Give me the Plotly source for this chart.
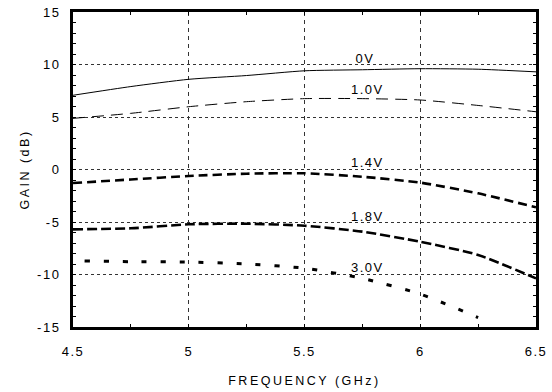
import plotly.graph_objects as go

freq = [4.5, 4.75, 5.0, 5.25, 5.5, 5.75, 6.0, 6.25, 6.5]
gain_0v = [7.07, 7.9, 8.59, 8.95, 9.4, 9.5, 9.6, 9.55, 9.3]
gain_1v0 = [4.87, 5.35, 5.98, 6.46, 6.75, 6.75, 6.62, 6.1, 5.5]
gain_1v4 = [-1.29, -0.95, -0.62, -0.4, -0.36, -0.69, -1.25, -2.27, -3.6]
gain_1v8 = [-5.7, -5.6, -5.22, -5.16, -5.35, -5.92, -6.88, -8.14, -10.37]
freq_3v0 = [4.55, 4.75, 5.0, 5.25, 5.5, 5.75, 6.0, 6.25]
gain_3v0 = [-8.71, -8.78, -8.81, -9.0, -9.4, -10.37, -11.86, -14.1]

labels = ["0V", "1.0V", "1.4V", "1.8V", "3.0V"]
label_x = [5.76, 5.77, 5.77, 5.77, 5.77]
label_y = [10.6, 7.6, 0.65, -4.5, -9.35]

x_ticks = [4.5, 5, 5.5, 6, 6.5]
x_ticktext = ["4.5", "5", "5.5", "6", "6.5"]
y_ticks = [-15, -10, -5, 0, 5, 10, 15]
y_ticktext = ["-15", "-10", "-5", "0", "5", "10", "15"]
x_range = [4.5, 6.5]
y_range = [-15, 15]

FONT = "Liberation Sans, Arial, sans-serif"

fig = go.Figure()
series = [
    (freq, gain_0v, 1.0, "solid"),
    (freq, gain_1v0, 1.0, "12px,7px"),
    (freq, gain_1v4, 2.6, "9px,5px"),
    (freq, gain_1v8, 2.6, "10px,4px"),
    (freq_3v0, gain_3v0, 3.0, "5px,14px"),
]
for (xs, ys, w, d), name in zip(series, labels):
    fig.add_trace(go.Scatter(x=xs, y=ys, mode="lines", name=name,
                             line=dict(color="black", width=w, dash=d, shape="spline", smoothing=0.6),
                             showlegend=False, hoverinfo="skip"))

for t, lx, ly in zip(labels, label_x, label_y):
    fig.add_annotation(x=lx, y=ly, text=t, showarrow=False,
                       font=dict(family=FONT, size=13, color="black"))

fig.update_layout(
    xaxis=dict(range=x_range, tickvals=x_ticks, ticktext=x_ticktext,
               showgrid=True, gridcolor="#333333", gridwidth=1, griddash="4px,4px",
               showline=True, linecolor="black", linewidth=3, mirror=True,
               ticks="", zeroline=False, ticklabelstandoff=10, automargin=False,
               tickfont=dict(family=FONT, size=13, color="black"),
               title=dict(text="FREQUENCY (GHz)", font=dict(family=FONT, size=12.5, color="black"), standoff=19)),
    yaxis=dict(range=y_range, tickvals=y_ticks, ticktext=y_ticktext,
               showgrid=True, gridcolor="#333333", gridwidth=1, griddash="3px,3px",
               showline=True, linecolor="black", linewidth=3, mirror=True,
               ticks="", zeroline=False, ticklabelstandoff=7, automargin=False,
               tickfont=dict(family=FONT, size=13, color="black"),
               title=dict(text="GAIN (dB)", font=dict(family=FONT, size=12.5, color="black"), standoff=10)),
    xaxis2=dict(overlaying="x", matches="x", range=x_range, dtick=0.25, tick0=4.5,
                ticks="inside", ticklen=3, tickcolor="black", showticklabels=False,
                showgrid=False, zeroline=False, showline=True, linecolor="black",
                linewidth=3, mirror="allticks", automargin=False),
    yaxis2=dict(overlaying="y", matches="y", range=y_range, dtick=1, tick0=0,
                ticks="inside", ticklen=3, tickcolor="black", showticklabels=False,
                showgrid=False, zeroline=False, showline=True, linecolor="black",
                linewidth=3, mirror="allticks", automargin=False),
)
# invisible trace to activate the tick-only overlay axes
fig.add_trace(go.Scatter(x=[x_range[0]], y=[y_range[0]], xaxis="x2", yaxis="y2",
                         mode="markers", marker=dict(opacity=0), showlegend=False, hoverinfo="skip"))

fig.update_layout(width=552, height=392, margin=dict(l=73, r=16, t=12, b=65),
                  plot_bgcolor="white", paper_bgcolor="white",
                  font=dict(family=FONT, color="black"))

post = """
document.body.style.margin = '0';
var s = document.createElement('style');
s.textContent = '.xtitle, .ytitle {letter-spacing: 2.5px;} .xtick text, .ytick text {letter-spacing: 1.5px;} .annotation-text {letter-spacing: 1.5px;}';
document.head.appendChild(s);
"""
fig.write_html("out.html", post_script=post, config={"displayModeBar": False})
